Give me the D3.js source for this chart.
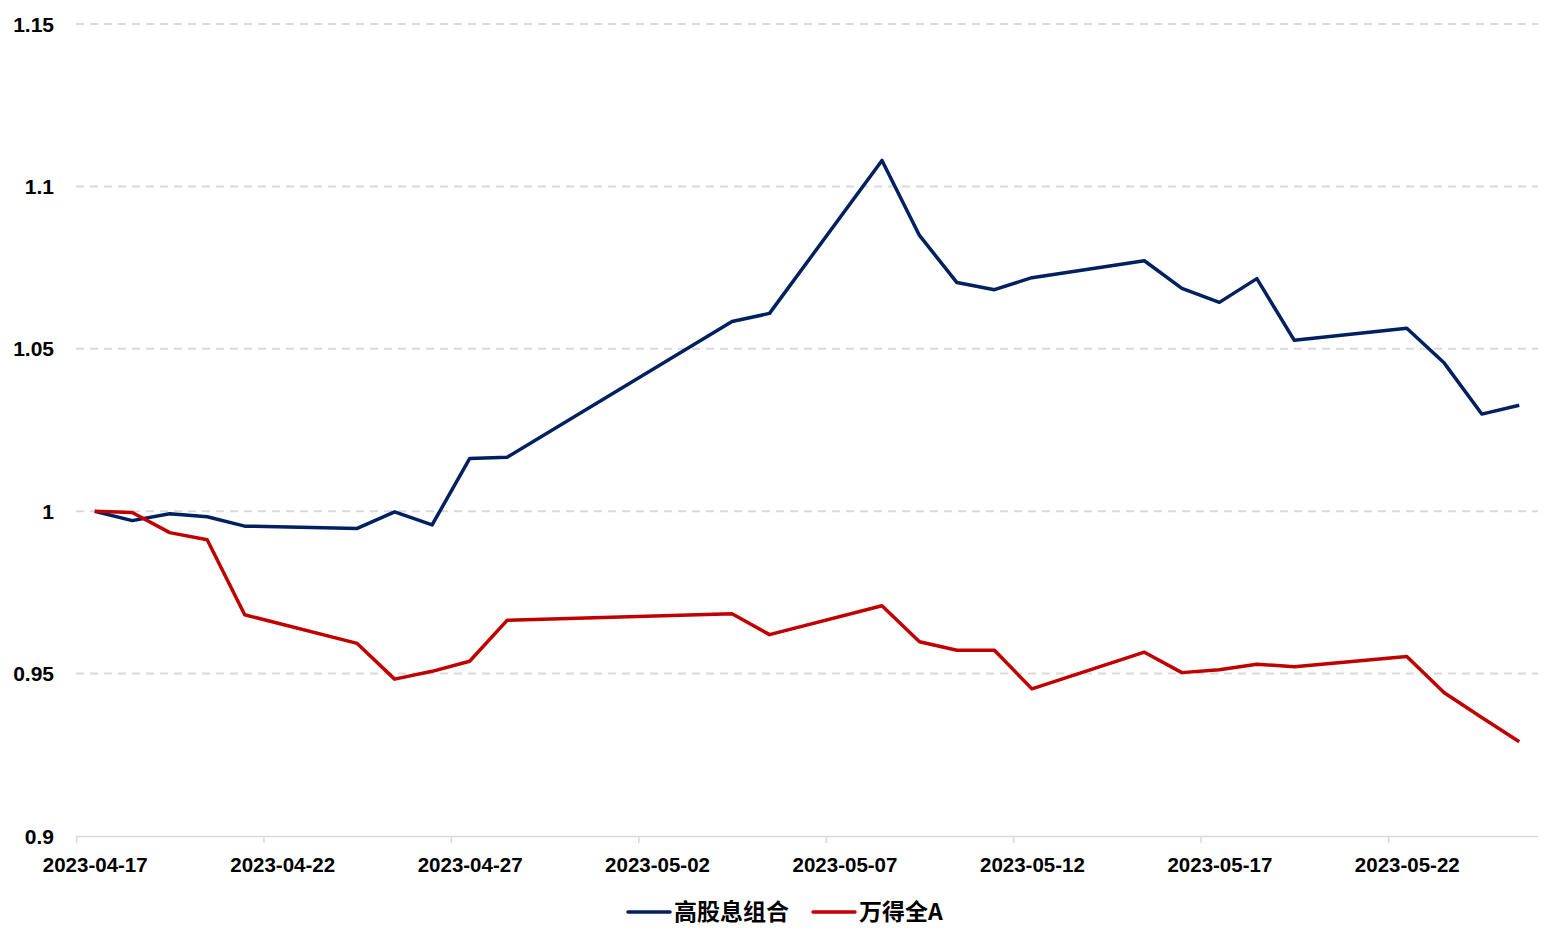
<!DOCTYPE html>
<html>
<head>
<meta charset="utf-8">
<script src="https://cdn.jsdelivr.net/npm/d3@7"></script>
<style>
  html, body { margin: 0; padding: 0; background: #fff; }
  svg { display: block; }
</style>
</head>
<body>
<svg id="chart" width="1562" height="946"></svg>
<script>
const dates = ["2023-04-17","2023-04-18","2023-04-19","2023-04-20","2023-04-21","2023-04-24","2023-04-25","2023-04-26","2023-04-27","2023-04-28","2023-05-04","2023-05-05","2023-05-08","2023-05-09","2023-05-10","2023-05-11","2023-05-12","2023-05-15","2023-05-16","2023-05-17","2023-05-18","2023-05-19","2023-05-22","2023-05-23","2023-05-24","2023-05-25"];
const highDividend = [1.0000,0.9971,0.9992,0.9983,0.9954,0.9947,0.9998,0.9958,1.0162,1.0166,1.0584,1.0609,1.1080,1.0849,1.0704,1.0682,1.0719,1.0771,1.0686,1.0643,1.0716,1.0526,1.0563,1.0456,1.0299,1.0326];
const windA = [1.0000,0.9996,0.9934,0.9912,0.9681,0.9593,0.9483,0.9507,0.9538,0.9664,0.9684,0.9620,0.9709,0.9598,0.9572,0.9572,0.9453,0.9566,0.9503,0.9512,0.9529,0.9521,0.9553,0.9441,0.9365,0.9290];
const seriesNames = ["高股息组合","万得全A"];
const seriesColors = ["#002060","#C00000"];
const xTickLabels = ["2023-04-17","2023-04-22","2023-04-27","2023-05-02","2023-05-07","2023-05-12","2023-05-17","2023-05-22"];
const xDomain = ["2023-04-17","2023-05-26"];
const yTicks = [0.9,0.95,1,1.05,1.1,1.15];

(function () {
const parse = d3.utcParse("%Y-%m-%d");
const svg = d3.select("#chart");
const mLeft = 76, mRight = 1538, mTop = 24, mBottom = 836;

const x = d3.scaleUtc().domain(xDomain.map(parse)).range([mLeft, mRight]);
const y = d3.scaleLinear().domain([0.9, 1.15]).range([mBottom, mTop]);
const mid = d => d3.utcHour.offset(parse(d), 12);
const halfDay = x(mid(xDomain[0])) - x(parse(xDomain[0]));

const labelFont = "'Liberation Sans', Arial, sans-serif";

// gridlines
svg.append("g").selectAll("line").data(yTicks.filter(v => v > 0.9)).join("line")
  .attr("x1", mLeft).attr("x2", mRight)
  .attr("y1", d => y(d)).attr("y2", d => y(d))
  .attr("stroke", "#d9d9d9").attr("stroke-width", 2).attr("stroke-dasharray", "8,6");

// y labels
svg.append("g").selectAll("text").data(yTicks).join("text")
  .attr("x", 54).attr("y", d => y(d)).attr("dy", "0.36em")
  .attr("text-anchor", "end")
  .attr("font-family", labelFont).attr("font-weight", "bold").attr("font-size", 21)
  .attr("fill", "#000")
  .text(d => d3.format("")(d));

// x axis
const xAxis = d3.axisBottom(x)
  .tickValues(xTickLabels.map(parse))
  .tickFormat(d3.utcFormat("%Y-%m-%d"))
  .tickSize(7).tickSizeOuter(0).tickPadding(14);
const gx = svg.append("g").attr("transform", `translate(0,${mBottom})`).call(xAxis);
gx.select(".domain").attr("stroke", "#d9d9d9").attr("stroke-width", 1.5)
  .attr("d", `M${mLeft},0.5H${mRight}`);
gx.selectAll(".tick line").attr("stroke", "#d9d9d9").attr("stroke-width", 1.5);
gx.selectAll(".tick text")
  .attr("dx", halfDay)
  .attr("font-family", labelFont).attr("font-weight", "bold").attr("font-size", 20.5)
  .attr("fill", "#000");

// lines
const line = d3.line().x(d => x(mid(d[0]))).y(d => y(d[1]));
[highDividend, windA].forEach((vals, i) => {
  svg.append("path")
    .datum(dates.map((d, j) => [d, vals[j]]))
    .attr("fill", "none")
    .attr("stroke", seriesColors[i])
    .attr("stroke-width", 3.5)
    .attr("stroke-linejoin", "round")
    .attr("d", line);
});

// legend
const legendY = 912;
const legendXs = [628, 813];
seriesNames.forEach((name, i) => {
  const g = svg.append("g").attr("transform", `translate(${legendXs[i]},${legendY})`);
  g.append("line").attr("x1", 0).attr("x2", 42).attr("y1", 0).attr("y2", 0)
    .attr("stroke", seriesColors[i]).attr("stroke-width", 3.5).attr("stroke-linecap", "round");
  g.append("text").attr("x", 46).attr("y", 0).attr("dy", "0.36em")
    .attr("font-family", "'Noto Sans CJK SC', 'Liberation Sans', sans-serif")
    .attr("font-weight", "bold").attr("font-size", 23)
    .attr("fill", "#000")
    .text(name);
});
})();
</script>
</body>
</html>
